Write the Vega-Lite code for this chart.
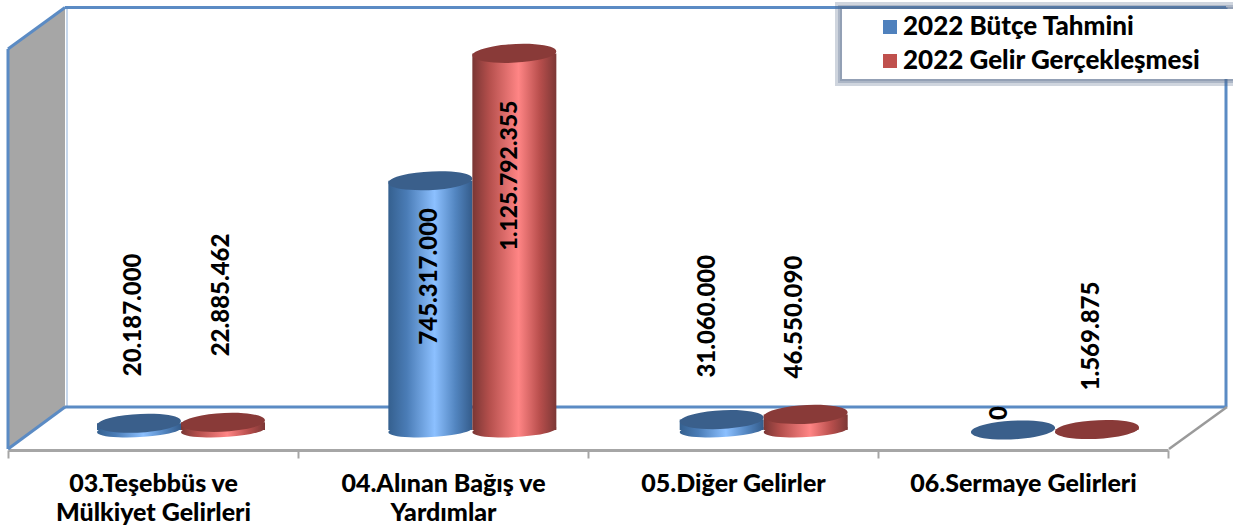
{
"$schema":"https://vega.github.io/schema/vega-lite/v6.json",
"width":1233,"height":450,"autosize":"none","padding":{"left":0,"top":0,"right":0,"bottom":81},
"background":"white",
"config":{"view":{"stroke":null},"font":"Lato"},
"datasets":{
"rows":[
{"category":"03.Teşebbüs ve Mülkiyet Gelirleri","series":"2022 Bütçe Tahmini","value":20187000,"label":"20.187.000"},
{"category":"03.Teşebbüs ve Mülkiyet Gelirleri","series":"2022 Gelir Gerçekleşmesi","value":22885462,"label":"22.885.462"},
{"category":"04.Alınan Bağış ve Yardımlar","series":"2022 Bütçe Tahmini","value":745317000,"label":"745.317.000"},
{"category":"04.Alınan Bağış ve Yardımlar","series":"2022 Gelir Gerçekleşmesi","value":1125792355,"label":"1.125.792.355"},
{"category":"05.Diğer Gelirler","series":"2022 Bütçe Tahmini","value":31060000,"label":"31.060.000"},
{"category":"05.Diğer Gelirler","series":"2022 Gelir Gerçekleşmesi","value":46550090,"label":"46.550.090"},
{"category":"06.Sermaye Gelirleri","series":"2022 Bütçe Tahmini","value":0,"label":"0"},
{"category":"06.Sermaye Gelirleri","series":"2022 Gelir Gerçekleşmesi","value":1569875,"label":"1.569.875"}
],
"frame":[
{"part":"wall","u":0,"u2":0,"v":1139000000,"v2":-56800000},
{"part":"wall","u":0.19655,"u2":0.19655,"v":1263080000,"v2":68760000},
{"part":"inner","u":0.2034,"u2":0.2034,"v":1263080000,"v2":68760000},
{"part":"blue","u":0.19655,"u2":4.2,"v":1263080000,"v2":1263080000},
{"part":"blue","u":4.2,"u2":4.2,"v":1263080000,"v2":68760000},
{"part":"blue","u":0.19655,"u2":4.2,"v":68760000,"v2":68760000},
{"part":"blue","u":0,"u2":0.19655,"v":1139000000,"v2":1263080000},
{"part":"blue","u":0,"u2":0,"v":1139000000,"v2":-56800000},
{"part":"blue","u":0,"u2":0.19655,"v":-56800000,"v2":68760000},
{"part":"gray","u":4.0034,"u2":4.2034,"v":-56800000,"v2":68760000},
{"part":"shadow","u":2.8517,"u2":4.3,"v":1279500000,"v2":1028400000},
{"part":"shadow","u":2.8621,"u2":4.3,"v":1270550000,"v2":1037400000},
{"part":"shadow","u":2.869,"u2":4.3,"v":1264600000,"v2":1043300000},
{"part":"box","u":2.8759,"u2":4.3,"v":1258600000,"v2":1049300000}
]
},
"resolve":{"scale":{"x":"independent","xOffset":"independent"},"axis":{"x":"independent"}},
"layer":[
{
"data":{"name":"frame"},
"encoding":{
"x":{"field":"u","type":"quantitative","scale":{"domain":[0,4],"range":[8,1168],"nice":false,"zero":false},"axis":null},
"y":{"field":"v","type":"quantitative","stack":null,"scale":{"domain":[-59790000,1285500000],"nice":false,"zero":false},"axis":null}
},
"layer":[
{"transform":[{"filter":"datum.part=='wall'"}],"mark":{"type":"area","color":"#a6a6a6"},"encoding":{"y2":{"field":"v2"}}},
{"transform":[{"filter":"datum.part=='inner'"}],"mark":{"type":"rule","color":"#c6d7ec","strokeWidth":2},"encoding":{"x2":{"field":"u2"},"y2":{"field":"v2"}}},
{"transform":[{"filter":"datum.part=='blue'"}],"mark":{"type":"rule","color":"#5b8bc4","strokeWidth":3},"encoding":{"x2":{"field":"u2"},"y2":{"field":"v2"}}},
{"transform":[{"filter":"datum.part=='gray'"}],"mark":{"type":"rule","color":"#9a9a9a","strokeWidth":2.5},"encoding":{"x2":{"field":"u2"},"y2":{"field":"v2"}}},
{"transform":[{"filter":"datum.part=='shadow'"}],"mark":{"type":"rect","color":"#52688a","opacity":0.28},"encoding":{"x2":{"field":"u2"},"y2":{"field":"v2"}}},
{"transform":[{"filter":"datum.part=='box'"}],"mark":{"type":"rect","color":"#ffffff"},"encoding":{"x2":{"field":"u2"},"y2":{"field":"v2"}}}
]
},
{
"data":{"name":"rows"},
"mark":{"type":"rule","opacity":0},
"encoding":{
"x":{"field":"category","type":"nominal","sort":null,"scale":{"range":[8,1168],"paddingInner":0,"paddingOuter":0},
"axis":{"title":null,"labelAngle":0,"labelFontSize":25,"labelFontWeight":900,"labelColor":"#000000","labelFont":"Lato","labelLimit":500,"labelLineHeight":29,"labelPadding":13,"labelExpr":"split(replace(datum.label,'ve ','ve|'),'|')","domainColor":"#a6a6a6","domainWidth":3,"tickColor":"#a6a6a6","tickWidth":2,"tickSize":8,"tickBand":"extent","labelBaseline":"top"}}
}
},
{
"data":{"name":"rows"},
"encoding":{
"x":{"field":"category","type":"nominal","sort":null,"scale":{"range":[97,1139],"paddingInner":0.4235,"paddingOuter":0},"axis":null},
"xOffset":{"field":"series","type":"nominal","sort":null,"scale":{"range":[0,168],"paddingInner":0,"paddingOuter":0}},
"y":{"field":"value","type":"quantitative","stack":null,"scale":{"domain":[-59790000,1285500000],"nice":false,"zero":false},"axis":null}
},
"layer":[
{"mark":{"type":"point","filled":true,"size":1,"opacity":1},"encoding":{"y":{"datum":0,"type":"quantitative"},"color":{"field":"series","type":"nominal","sort":null,"scale":{"domain":["2022 Bütçe Tahmini","2022 Gelir Gerçekleşmesi"],"range":["#4f81bd","#c0504d"]},"legend":{"title":null,"orient":"none","legendX":877,"legendY":14,"symbolType":"square","symbolSize":196,"labelFontSize":26,"labelFontWeight":900,"labelColor":"#000000","labelFont":"Lato","labelLimit":500,"rowPadding":8,"symbolStrokeWidth":0,"labelOffset":0,"padding":0}}}},
{"transform":[{"filter":"datum.series=='2022 Bütçe Tahmini'"}],"layer":[
{"mark":{"type":"point","filled":true,"size":7056,"opacity":1,"strokeWidth":0,"shape":"M -0.9986 0.0523 A 1 0.17 -3 1 1 0.9986 -0.0523 A 1 0.17 -3 1 1 -0.9986 0.0523 Z","fill":{"gradient":"linear","x1":0,"x2":1,"y1":0,"y2":0,"stops":[{"offset":0,"color":"#35608f"},{"offset":0.22,"color":"#4a7cb6"},{"offset":0.55,"color":"#8cc0ff"},{"offset":0.8,"color":"#5285c0"},{"offset":1,"color":"#345c8b"}]}},"encoding":{"y":{"datum":0,"type":"quantitative"}}},
{"mark":{"type":"bar","fill":{"gradient":"linear","x1":0,"x2":1,"y1":0,"y2":0,"stops":[{"offset":0,"color":"#35608f"},{"offset":0.22,"color":"#4a7cb6"},{"offset":0.55,"color":"#8cc0ff"},{"offset":0.8,"color":"#5285c0"},{"offset":1,"color":"#345c8b"}]}}},
{"mark":{"type":"point","filled":true,"size":7056,"opacity":1,"strokeWidth":0,"color":"#3a5f8b","shape":"M -0.9986 0.0523 A 1 0.22 -3 1 1 0.9986 -0.0523 A 1 0.22 -3 1 1 -0.9986 0.0523 Z"}}
]},
{"transform":[{"filter":"datum.series=='2022 Gelir Gerçekleşmesi'"}],"layer":[
{"mark":{"type":"point","filled":true,"size":7056,"opacity":1,"strokeWidth":0,"shape":"M -0.9986 0.0523 A 1 0.17 -3 1 1 0.9986 -0.0523 A 1 0.17 -3 1 1 -0.9986 0.0523 Z","fill":{"gradient":"linear","x1":0,"x2":1,"y1":0,"y2":0,"stops":[{"offset":0,"color":"#7a3634"},{"offset":0.2,"color":"#b44f4c"},{"offset":0.55,"color":"#ff8585"},{"offset":0.8,"color":"#b94f4d"},{"offset":1,"color":"#7c3735"}]}},"encoding":{"y":{"datum":0,"type":"quantitative"}}},
{"mark":{"type":"bar","fill":{"gradient":"linear","x1":0,"x2":1,"y1":0,"y2":0,"stops":[{"offset":0,"color":"#7a3634"},{"offset":0.2,"color":"#b44f4c"},{"offset":0.55,"color":"#ff8585"},{"offset":0.8,"color":"#b94f4d"},{"offset":1,"color":"#7c3735"}]}}},
{"mark":{"type":"point","filled":true,"size":7056,"opacity":1,"strokeWidth":0,"color":"#893a38","shape":"M -0.9986 0.0523 A 1 0.22 -3 1 1 0.9986 -0.0523 A 1 0.22 -3 1 1 -0.9986 0.0523 Z"}}
]},
{"transform":[{"filter":"datum.label=='20.187.000'"}],"mark":{"type":"text","angle":270,"align":"left","baseline":"middle","fontSize":24,"fontWeight":900,"color":"#000000","dx":47,"dy":-5},"encoding":{"text":{"field":"label"}}},
{"transform":[{"filter":"datum.label=='22.885.462'"}],"mark":{"type":"text","angle":270,"align":"left","baseline":"middle","fontSize":24,"fontWeight":900,"color":"#000000","dx":66,"dy":-1},"encoding":{"text":{"field":"label"}}},
{"transform":[{"filter":"datum.label=='745.317.000'"}],"mark":{"type":"text","angle":270,"align":"left","baseline":"middle","fontSize":24,"fontWeight":900,"color":"#000000","dx":-164,"dy":0},"encoding":{"text":{"field":"label"}}},
{"transform":[{"filter":"datum.label=='1.125.792.355'"}],"mark":{"type":"text","angle":270,"align":"left","baseline":"middle","fontSize":23,"fontWeight":900,"color":"#000000","dx":-197,"dy":-4},"encoding":{"text":{"field":"label"}}},
{"transform":[{"filter":"datum.label=='31.060.000'"}],"mark":{"type":"text","angle":270,"align":"left","baseline":"middle","fontSize":24,"fontWeight":900,"color":"#000000","dx":42,"dy":-14},"encoding":{"text":{"field":"label"}}},
{"transform":[{"filter":"datum.label=='46.550.090'"}],"mark":{"type":"text","angle":270,"align":"left","baseline":"middle","fontSize":24,"fontWeight":900,"color":"#000000","dx":36,"dy":-11},"encoding":{"text":{"field":"label"}}},
{"transform":[{"filter":"datum.label=='0'"}],"mark":{"type":"text","angle":270,"align":"left","baseline":"middle","fontSize":24,"fontWeight":900,"color":"#000000","dx":10,"dy":-13},"encoding":{"text":{"field":"label"}}},
{"transform":[{"filter":"datum.label=='1.569.875'"}],"mark":{"type":"text","angle":270,"align":"left","baseline":"middle","fontSize":24,"fontWeight":900,"color":"#000000","dx":39,"dy":-5},"encoding":{"text":{"field":"label"}}}
]
}
]
}
